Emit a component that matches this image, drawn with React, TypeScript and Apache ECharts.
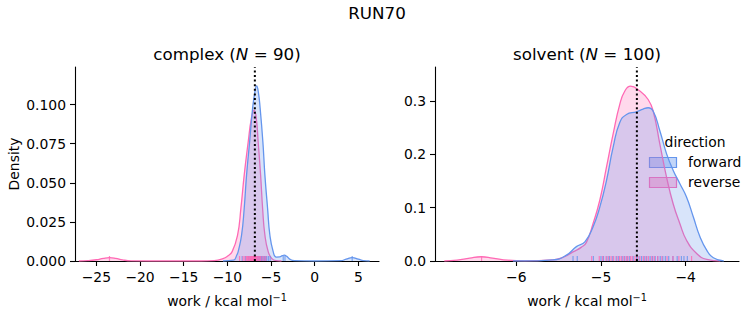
import React, { useEffect, useRef } from "react";
import * as echarts from "echarts";

// ---- data ----
const complexForwardKde: [number, number][] = [
  [-10.5, 0], [-9.3, 0.0005], [-8.9, 0.004], [-8.76, 0.006], [-8.37, 0.0166], [-8.07, 0.0336],
  [-7.8, 0.0549], [-7.45, 0.0761], [-7.11, 0.0974], [-6.85, 0.108], [-6.65, 0.1119], [-6.45, 0.108],
  [-6.24, 0.0974], [-5.93, 0.0761], [-5.7, 0.0549], [-5.39, 0.0336], [-5.13, 0.0166], [-4.75, 0.006],
  [-4.4, 0.0025], [-4.0, 0.0026], [-3.7, 0.0034], [-3.49, 0.0037], [-3.2, 0.003], [-2.8, 0.001],
  [-2.3, 0.0002], [0, 0], [3.0, 0.0002], [3.6, 0.0012], [4.3, 0.0022], [5.0, 0.0012], [5.6, 0.0002], [6.3, 0],
];
const complexReverseKde: [number, number][] = [
  [-27.0, 0], [-26, 0.0002], [-25, 0.0008], [-24.2, 0.0017], [-23.5, 0.0021], [-22.8, 0.0017],
  [-22, 0.0007], [-21, 0.0001], [-19, 0], [-13, 0], [-11.5, 0.0003], [-10.5, 0.0015], [-10, 0.003],
  [-9.45, 0.006], [-8.83, 0.0166], [-8.45, 0.0336], [-8.07, 0.0549], [-7.61, 0.0761], [-7.25, 0.091],
  [-6.93, 0.0964], [-6.7, 0.092], [-6.47, 0.0761], [-6.19, 0.0549], [-5.96, 0.0336], [-5.7, 0.0166],
  [-5.32, 0.006], [-4.9, 0.0015], [-4.4, 0.0002], [-3.8, 0],
];
const solventForwardKde: [number, number][] = [
  [-6.04, 0], [-5.8, 0.0003], [-5.567, 0.002], [-5.408, 0.011], [-5.29, 0.027], [-5.19, 0.036],
  [-5.094, 0.064], [-5.014, 0.101], [-4.935, 0.151], [-4.857, 0.213], [-4.778, 0.26], [-4.698, 0.275],
  [-4.58, 0.28], [-4.502, 0.285], [-4.443, 0.2875], [-4.383, 0.281], [-4.304, 0.244], [-4.225, 0.201],
  [-4.147, 0.17], [-4.068, 0.145], [-3.99, 0.12], [-3.91, 0.083], [-3.83, 0.045], [-3.75, 0.02],
  [-3.673, 0.006], [-3.55, 0],
];
const solventReverseKde: [number, number][] = [
  [-6.85, 0], [-6.7, 0.0015], [-6.55, 0.0055], [-6.414, 0.008], [-6.28, 0.0055], [-6.1, 0.0015],
  [-5.9, 0.0003], [-5.567, 0.002], [-5.43, 0.008], [-5.33, 0.017], [-5.23, 0.026], [-5.172, 0.035],
  [-5.094, 0.07], [-5.014, 0.114], [-4.935, 0.176], [-4.857, 0.238], [-4.778, 0.294], [-4.718, 0.319],
  [-4.651, 0.328], [-4.541, 0.319], [-4.443, 0.303], [-4.383, 0.281], [-4.304, 0.219], [-4.225, 0.157],
  [-4.147, 0.107], [-4.068, 0.07], [-3.99, 0.039], [-3.87, 0.014], [-3.75, 0.003], [-3.59, 0],
];

const complexForwardRug = [
  -8.3, -7.9, -7.6, -7.4, -7.3, -7.2, -7.1, -7.02, -6.95, -6.9, -6.84, -6.8, -6.74, -6.7, -6.66,
  -6.6, -6.55, -6.5, -6.43, -6.4, -6.33, -6.3, -6.24, -6.2, -6.1, -6.0, -5.92, -5.8, -5.72, -5.6,
  -5.5, -5.3, -5.1, -3.6, -3.4, 4.3,
];
const complexReverseRug = [
  -23.5, -8.6, -8.2, -8.0, -7.8, -7.7, -7.6, -7.5, -7.42, -7.35, -7.3, -7.24, -7.2, -7.14, -7.1,
  -7.05, -7.0, -6.96, -6.9, -6.86, -6.8, -6.76, -6.7, -6.64, -6.6, -6.5, -6.4, -6.3, -6.2, -6.0,
  -5.8, -5.6,
];
const solventForwardRug = [
  -5.33, -5.28, -5.09, -5.0, -4.97, -4.93, -4.9, -4.86, -4.82, -4.79, -4.75, -4.72, -4.69, -4.66,
  -4.62, -4.58, -4.55, -4.52, -4.49, -4.46, -4.42, -4.39, -4.36, -4.33, -4.3, -4.27, -4.24, -4.2,
  -4.15, -4.1, -4.05, -4.02, -3.98,
];
const solventReverseRug = [
  -6.41, -5.11, -5.02, -4.98, -4.94, -4.91, -4.88, -4.85, -4.81, -4.78, -4.76, -4.73, -4.7, -4.68,
  -4.65, -4.63, -4.6, -4.57, -4.54, -4.5, -4.47, -4.44, -4.4, -4.37, -4.33, -4.28, -4.22, -4.15,
  -4.08, -3.93,
];

const complexMean = -6.85;
const solventMean = -4.576;

const complexXTicks = [-25, -20, -15, -10, -5, 0, 5];
const complexYTicks = [0, 0.025, 0.05, 0.075, 0.1];
const solventXTicks = [-6, -5, -4];
const solventYTicks = [0, 0.1, 0.2, 0.3];

const suptitle = "RUN70";
const legendTitle = "direction";
const directions = ["forward", "reverse"];

const BLUE = "#6495ED";
const PINK = "#FF69B4";
const FONT = "DejaVu Sans";

function fmtMinus(v: number) {
  return v < 0 ? "\u2212" + String(Math.abs(v)) : String(v);
}

export default function App() {
  const ref = useRef<HTMLDivElement>(null);
  useEffect(() => {
    if (!ref.current) return;
    const chart = echarts.init(ref.current, undefined, { renderer: "svg" });

    const axisCommon = {
      axisLine: { show: true, onZero: false, lineStyle: { color: "#000", width: 1.1 } },
      axisTick: { show: true, length: 5, lineStyle: { color: "#000", width: 1.1 } },
      splitLine: { show: false },
    };
    const xName = {
      name: "work / kcal mol{sup|\u22121}",
      nameLocation: "middle" as const,
      nameGap: 31,
      nameTextStyle: {
        fontFamily: FONT,
        fontSize: 13.9,
        color: "#000",
        rich: { sup: { fontFamily: FONT, fontSize: 9.7, color: "#000", verticalAlign: "bottom", padding: [0, 0, 7, 0] } },
      },
    };

    const mkX = (grid: number, min: number, max: number, ticks: number[], fmt: (v: number) => string) => ({
      type: "value",
      gridIndex: grid,
      min,
      max,
      ...axisCommon,
      axisTick: { ...axisCommon.axisTick, customValues: ticks },
      axisLabel: { customValues: ticks, formatter: fmt, fontFamily: FONT, fontSize: 13.9, color: "#000", margin: 9 },
      ...xName,
    });
    const mkY = (grid: number, max: number, ticks: number[], fmt: (v: number) => string, name?: string) => ({
      type: "value",
      gridIndex: grid,
      min: 0,
      max,
      ...axisCommon,
      axisTick: { ...axisCommon.axisTick, customValues: ticks },
      axisLabel: { customValues: ticks, formatter: fmt, fontFamily: FONT, fontSize: 13.9, color: "#000", margin: 9 },
      name: name || "",
      nameLocation: "middle",
      nameGap: 54,
      nameTextStyle: { fontFamily: FONT, fontSize: 13.9, color: "#000" },
    });

    const kde = (data: [number, number][], color: string, idx: number, z: number) => ({
      type: "line",
      xAxisIndex: idx,
      yAxisIndex: idx,
      data,
      smooth: 0.5,
      showSymbol: false,
      symbol: "none",
      lineStyle: { color, width: 1.3 },
      areaStyle: { color, opacity: 0.25, origin: "start" },
      silent: true,
      z,
    });
    const rug = (vals: number[], color: string, idx: number) => ({
      type: "scatter",
      xAxisIndex: idx,
      yAxisIndex: idx,
      data: vals.map((v) => [v, 0]),
      symbol: "rect",
      symbolSize: [1.2, 5],
      symbolOffset: [0, -2.5],
      itemStyle: { color, opacity: 0.8 },
      silent: true,
      z: 4,
    });
    const vline = (x: number, ymax: number, idx: number) => ({
      type: "line",
      xAxisIndex: idx,
      yAxisIndex: idx,
      data: [[x, 0], [x, ymax]],
      showSymbol: false,
      symbol: "none",
      lineStyle: { color: "#000", width: 2, type: [2, 2.6] },
      silent: true,
      z: 5,
    });

    const cYMax = 0.124;
    const sYMax = 0.364;

    chart.setOption({
      animation: false,
      textStyle: { fontFamily: FONT },
      grid: [
        { left: 75, top: 67, width: 304, height: 194 },
        { left: 435, top: 67, width: 304, height: 194 },
      ],
      xAxis: [
        mkX(0, -27.45, 7.37, complexXTicks, fmtMinus),
        mkX(1, -6.96, -3.37, solventXTicks, fmtMinus),
      ],
      yAxis: [
        mkY(0, cYMax, complexYTicks, (v: number) => v.toFixed(3), "Density"),
        mkY(1, sYMax, solventYTicks, (v: number) => v.toFixed(1)),
      ],
      series: [
        kde(complexReverseKde, PINK, 0, 2),
        kde(complexForwardKde, BLUE, 0, 3),
        rug(complexForwardRug, BLUE, 0),
        rug(complexReverseRug, PINK, 0),
        vline(complexMean, cYMax, 0),
        kde(solventReverseKde, PINK, 1, 2),
        kde(solventForwardKde, BLUE, 1, 3),
        rug(solventForwardRug, BLUE, 1),
        rug(solventReverseRug, PINK, 1),
        vline(solventMean, sYMax, 1),
      ],
      graphic: [
        {
          type: "text",
          x: 377,
          y: 13,
          style: { text: suptitle, fontFamily: FONT, fontSize: 16.7, fill: "#000", align: "center", verticalAlign: "middle" },
        },
        {
          type: "text",
          x: 227,
          y: 54,
          style: {
            text: "complex ({i|N} = 90)",
            fontFamily: FONT,
            fontSize: 16.7,
            fill: "#000",
            align: "center",
            verticalAlign: "middle",
            rich: { i: { fontFamily: FONT, fontStyle: "italic", fontSize: 16.7, fill: "#000" } },
          },
        },
        {
          type: "text",
          x: 587,
          y: 54,
          style: {
            text: "solvent ({i|N} = 100)",
            fontFamily: FONT,
            fontSize: 16.7,
            fill: "#000",
            align: "center",
            verticalAlign: "middle",
            rich: { i: { fontFamily: FONT, fontStyle: "italic", fontSize: 16.7, fill: "#000" } },
          },
        },
        {
          type: "text",
          x: 695,
          y: 142,
          style: { text: legendTitle, fontFamily: FONT, fontSize: 13.9, fill: "#000", align: "center", verticalAlign: "middle" },
        },
        {
          type: "rect",
          shape: { x: 649.5, y: 157.5, width: 27, height: 10 },
          style: { fill: "rgba(100,149,237,0.4)", stroke: BLUE, lineWidth: 1.2 },
        },
        {
          type: "rect",
          shape: { x: 649.5, y: 177.5, width: 27, height: 10 },
          style: { fill: "rgba(255,105,180,0.4)", stroke: PINK, lineWidth: 1.2 },
        },
        {
          type: "text",
          x: 688,
          y: 162,
          style: { text: directions[0], fontFamily: FONT, fontSize: 13.9, fill: "#000", align: "left", verticalAlign: "middle" },
        },
        {
          type: "text",
          x: 688,
          y: 182,
          style: { text: directions[1], fontFamily: FONT, fontSize: 13.9, fill: "#000", align: "left", verticalAlign: "middle" },
        },
      ],
    });
    return () => chart.dispose();
  }, []);
  return <div ref={ref} style={{ width: 753, height: 325, position: "absolute", left: 0, top: 0, background: "#fff" }} />;
}
